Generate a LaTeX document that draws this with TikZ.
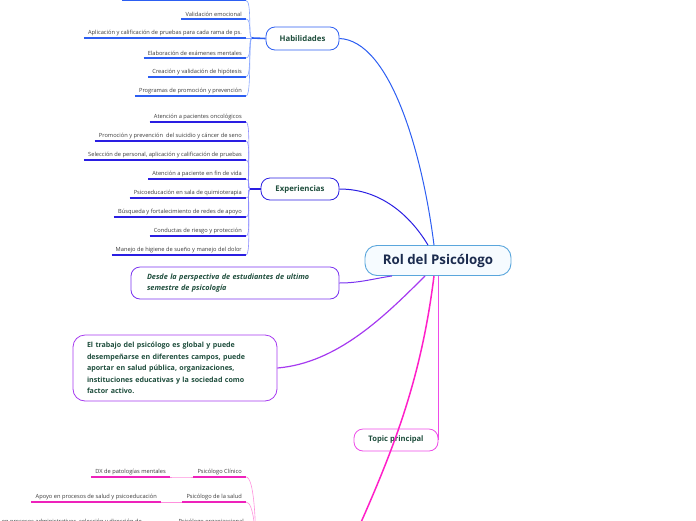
\documentclass[tikz,border=0pt]{standalone}
\usepackage{fontspec}
\setmainfont{Open Sans}
\definecolor{topicgreen}{HTML}{1F4E3D}
\definecolor{rolnavy}{HTML}{1B2B4E}
\definecolor{rolborder}{HTML}{5AA6DC}
\definecolor{rolfill}{HTML}{F6FBFF}
\definecolor{leafgrey}{HTML}{3A3A3A}
\definecolor{habblue}{HTML}{2C5EF2}
\definecolor{habtwig}{HTML}{8AA8FF}
\definecolor{expblue}{HTML}{2A1EE2}
\definecolor{exptwig}{HTML}{8C8CFF}
\definecolor{desdeviolet}{HTML}{7A33F0}
\definecolor{trabajopurple}{HTML}{A63AF0}
\definecolor{topicpink}{HTML}{EE4BE8}
\definecolor{psimagenta}{HTML}{FF1FC8}
\definecolor{psileaf}{HTML}{EE22BB}
\definecolor{psitwig}{HTML}{FF90DD}
\begin{document}
\begin{tikzpicture}[x=1pt,y=-1pt,
		box/.style={draw,fill=white,rounded corners=9pt,line width=0.8pt,text=topicgreen,font=\bfseries\fontsize{7.8}{9}\selectfont},
		leaf/.style={anchor=south east,inner xsep=4pt,inner ysep=2pt,text=leafgrey,font=\fontsize{5.7}{6.5}\selectfont},
		hleaf/.style={leaf,append after command={(\tikzlastnode.south west) edge[line width=1.3pt,draw=habblue] (\tikzlastnode.south east)}},
		eleaf/.style={leaf,append after command={(\tikzlastnode.south west) edge[line width=1.3pt,draw=expblue] (\tikzlastnode.south east)}},
		pleaf/.style={leaf,append after command={(\tikzlastnode.south west) edge[line width=1.3pt,draw=psileaf] (\tikzlastnode.south east)}},
		twig/.style={line width=0.6pt}]
	\useasboundingbox (0,0) rectangle (696,520);
	\node[draw=rolborder,fill=rolfill,rounded corners=12pt,line width=0.9pt,minimum width=146pt,minimum height=30pt,text=rolnavy,font=\bfseries\fontsize{13.3}{15}\selectfont] (rol) at (438,260.5) {Rol del Psicólogo};
	\node[box,draw=habblue,minimum width=73pt,minimum height=23pt] (hab) at (302.5,38.5) {Habilidades};
	\node[box,draw=expblue,minimum width=78pt,minimum height=22pt] (exp) at (300,189) {Experiencias};
	\node[box,draw=desdeviolet,minimum width=208pt,minimum height=32pt,inner xsep=16pt,text width=176pt,align=left,font=\bfseries\itshape\fontsize{7.3}{10.5}\selectfont] (desde) at (235,283) {Desde la perspectiva de estudiantes de ultimo\\semestre de psicología};
	\node[box,draw=trabajopurple,rounded corners=12pt,minimum width=204pt,minimum height=66pt,inner xsep=14pt,text width=176pt,align=left,font=\bfseries\fontsize{7.1}{11.5}\selectfont] (trabajo) at (175,368) {El trabajo del psicólogo es global y puede\\desempeñarse en diferentes campos, puede\\aportar en salud pública, organizaciones,\\instituciones educativas y la sociedad como\\factor activo.};
	\node[box,draw=topicpink,minimum width=84pt,minimum height=22pt,font=\bfseries\fontsize{7.6}{9}\selectfont] (topic) at (396,440) {Topic principal};
	\draw[line width=1pt,habblue] (hab.east) .. controls +(50,2) and +(-12,-95) .. ([xshift=-4pt]rol.north);
	\draw[line width=1pt,expblue] (exp.east) .. controls +(45,0) and +(-15,-25) .. ([xshift=-10pt]rol.north);
	\draw[line width=1pt,desdeviolet] (desde.east) .. controls +(20,0) and +(-20,3) .. ([xshift=-46pt]rol.south);
	\draw[line width=1.2pt,trabajopurple] (trabajo.east) .. controls +(60,-5) and +(-40,40) .. ([xshift=-13pt]rol.south);
	\draw[line width=1pt,topicpink] (topic.east) -- (topic.east |- rol.south);
	\coordinate (campos) at (335,580);
	\draw[line width=1.5pt,psimagenta] ([xshift=-4pt]rol.south) .. controls +(-15,120) and +(50,-110) .. (campos);
	\coordinate (hhub) at (252,38);
	\coordinate (h0a) at (122,0.5);
	\coordinate (h0) at (246,0.5);
	\draw[line width=1.3pt,habblue] (h0a) -- (h0);
	\node[hleaf] (h1) at (246,19) {Validación emocional};
	\node[hleaf] (h2) at (246,38) {Aplicación y calificación de pruebas para cada rama de ps.};
	\node[hleaf] (h3) at (246,58) {Elaboración de exámenes mentales};
	\node[hleaf] (h4) at (246,77) {Creación y validación de hipótesis};
	\node[hleaf] (h5) at (246,96) {Programas de promoción y prevención};
	\draw[twig,habtwig] (h0) .. controls +(6,0) and +(-4,0) .. (hhub);
	\draw[twig,habtwig] (h1.south east) .. controls +(6,0) and +(-4,0) .. (hhub);
	\draw[twig,habtwig] (h2.south east) -- (hhub);
	\draw[twig,habtwig] (h3.south east) .. controls +(6,0) and +(-4,0) .. (hhub);
	\draw[twig,habtwig] (h4.south east) .. controls +(6,0) and +(-4,0) .. (hhub);
	\draw[twig,habtwig] (h5.south east) .. controls +(6,0) and +(-4,0) .. (hhub);
	\draw[line width=1.6pt,habblue] (hhub) -- (hab.west);
	\coordinate (ehub) at (250,189);
	\node[eleaf] (e1) at (246,122) {Atención a pacientes oncológicos};
	\node[eleaf] (e2) at (246,141) {Promoción y prevención\ \ del suicidio y cáncer de seno};
	\node[eleaf] (e3) at (246,160) {Selección de personal, aplicación y calificación de pruebas};
	\node[eleaf] (e4) at (246,179) {Atención a paciente en fin de vida};
	\node[eleaf] (e5) at (246,198) {Psicoeducación en sala de quimioterapia};
	\node[eleaf] (e6) at (246,217) {Búsqueda y fortalecimiento de redes de apoyo};
	\node[eleaf] (e7) at (246,236) {Conductas de riesgo y protección};
	\node[eleaf] (e8) at (246,255) {Manejo de higiene de sueño y manejo del dolor};
	\draw[twig,exptwig] (e1.south east) .. controls +(6,0) and +(-4,0) .. (ehub);
	\draw[twig,exptwig] (e2.south east) .. controls +(6,0) and +(-4,0) .. (ehub);
	\draw[twig,exptwig] (e3.south east) .. controls +(6,0) and +(-4,0) .. (ehub);
	\draw[twig,exptwig] (e4.south east) .. controls +(6,0) and +(-4,0) .. (ehub);
	\draw[twig,exptwig] (e5.south east) .. controls +(6,0) and +(-4,0) .. (ehub);
	\draw[twig,exptwig] (e6.south east) .. controls +(6,0) and +(-4,0) .. (ehub);
	\draw[twig,exptwig] (e7.south east) .. controls +(6,0) and +(-4,0) .. (ehub);
	\draw[twig,exptwig] (e8.south east) .. controls +(6,0) and +(-4,0) .. (ehub);
	\draw[line width=1.6pt,expblue] (ehub) -- (exp.west);
	\coordinate (psihub) at (256,560);
	\node[pleaf] (p1) at (246,477) {Psicólogo Clínico};
	\node[pleaf] (p1a) at (170,477) {DX de patologías mentales};
	\node[pleaf] (p2) at (246,502) {Psicólogo de la salud};
	\node[pleaf] (p2a) at (161,502) {Apoyo en procesos de salud y psicoeducación};
	\node[pleaf] (p3) at (248,527) {Psicólogo organizacional};
	\node[pleaf] (p3a) at (146,527) {en procesos administrativos, selección y dirección de};
	\draw[twig,psitwig] (p1a.south east) .. controls +(10,0) and +(-10,0) .. (p1.south west);
	\draw[twig,psitwig] (p2a.south east) .. controls +(10,0) and +(-10,0) .. (p2.south west);
	\draw[twig,psitwig] (p1.south east) .. controls +(8,0) and +(0,-40) .. (psihub);
	\draw[twig,psitwig] (p2.south east) .. controls +(8,0) and +(0,-25) .. (psihub);
\end{tikzpicture}
\end{document}
